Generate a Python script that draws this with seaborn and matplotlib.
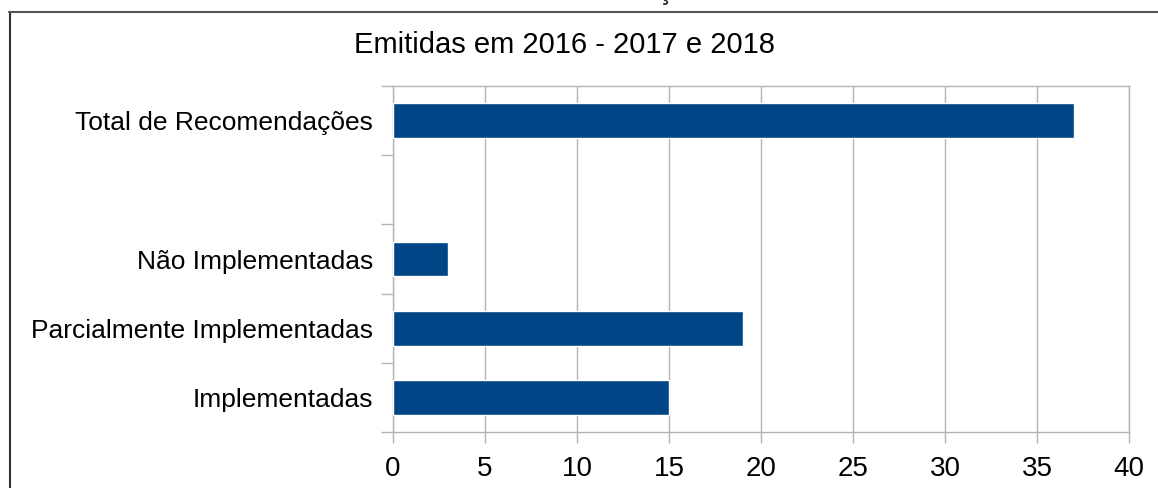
import pandas as pd
import numpy as np
import matplotlib.pyplot as plt
import seaborn as sns
from matplotlib.lines import Line2D

# Values (top to bottom, blank row is a spacer)
categories = ['Total de Recomendações', '', 'Não Implementadas',
              'Parcialmente Implementadas', 'Implementadas']
values = [37, np.nan, 3, 19, 15]
x_ticks = [0, 5, 10, 15, 20, 25, 30, 35, 40]

df = pd.DataFrame({'categoria': categories, 'valor': values})

sns.set_theme(style='white')
plt.rcParams['font.family'] = ['Liberation Sans', 'DejaVu Sans']

W, H = 1158, 488
fig = plt.figure(figsize=(W / 100, H / 100), dpi=100)
ax = fig.add_axes([393 / W, 1 - 432 / H, (1129 - 393) / W, (432 - 86) / H])

sns.barplot(data=df, x='valor', y='categoria', orient='h', color='#004586',
            saturation=1, width=0.5, order=categories, ax=ax, zorder=3)

grid_color = '#b3b3b3'
ax.set_xlim(0, 40)
ax.set_ylim(4.5, -0.5)
ax.set_xticks(x_ticks)
ax.set_xticklabels([str(t) for t in x_ticks], fontsize=20)
ax.xaxis.grid(True, color=grid_color, linewidth=1)
ax.set_axisbelow(True)
ax.set_xlabel('')
ax.set_ylabel('')

# category labels without ticks, tick marks between categories
ax.set_yticks(range(len(categories)))
ax.set_yticklabels(categories, fontsize=19)
ax.set_yticks(np.arange(-0.5, len(categories), 1.0), minor=True)
ax.tick_params(axis='y', which='major', length=0, pad=14.4)
ax.tick_params(axis='y', which='minor', length=8.5, color=grid_color, width=1, left=True)
ax.tick_params(axis='x', which='major', length=8, color=grid_color, width=1,
               bottom=True, pad=9)
for s in ax.spines.values():
    s.set_color(grid_color)
    s.set_linewidth(1)

ax.set_title('Emitidas em 2016 - 2017 e 2018', fontsize=21, pad=24, color='#000000',
             x=(565 - 393) / (1129 - 393))
ax.tick_params(axis='both', which='major', labelcolor='#000000')

# outer frame of the original image and cut-off heading above
fig.add_artist(Line2D([9.5 / W, 9.5 / W], [0, 1 - 12 / H], color='#333333',
                      linewidth=1.5, transform=fig.transFigure))
fig.add_artist(Line2D([9 / W, 1], [1 - 12 / H, 1 - 12 / H], color='#555555',
                      linewidth=1.5, transform=fig.transFigure))
fig.text(665 / W, 1 + 1 / H, 'ç', fontsize=20, ha='center', va='baseline')

plt.savefig('out.png', dpi=100)
